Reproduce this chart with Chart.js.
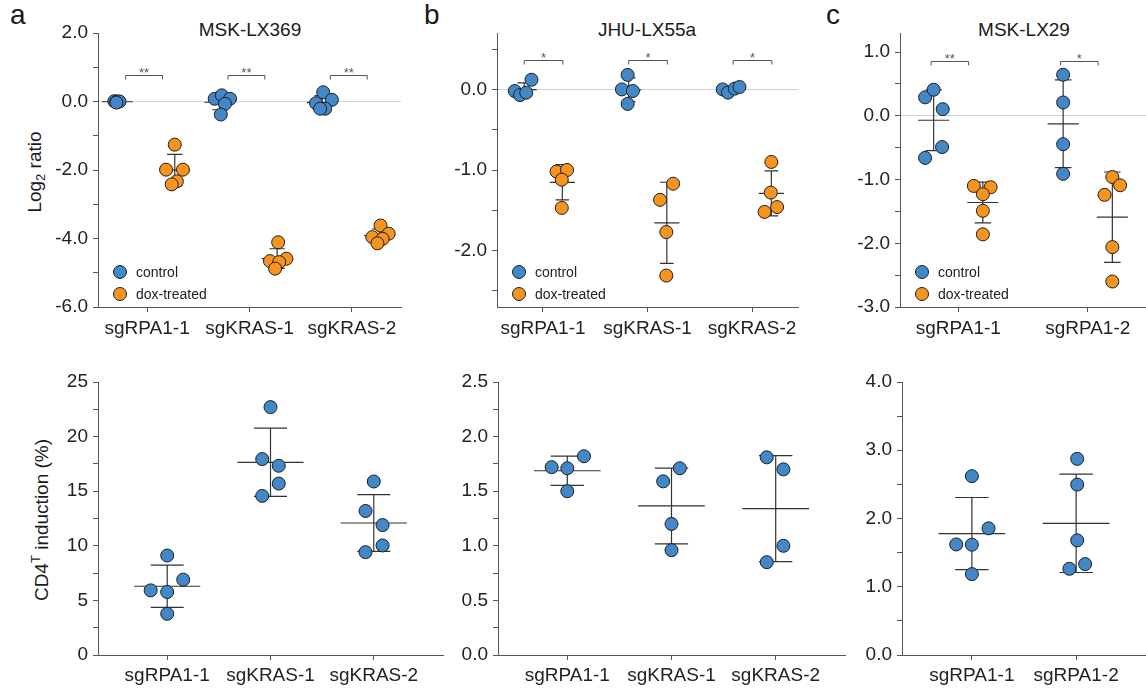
<!DOCTYPE html>
<html>
<head>
<meta charset="utf-8">
<script src="https://cdn.jsdelivr.net/npm/chart.js@4.4.1/dist/chart.umd.min.js"></script>
<style>
  body { margin: 0; background: #fff; }
  #wrap { position: relative; width: 1146px; height: 689px; overflow: hidden;
          font-family: 'Liberation Sans', Arial, sans-serif; color: #1a1a1a; }
  canvas { position: absolute; }
  .lbl { position: absolute; transform: translate(-50%, -50%); white-space: nowrap; line-height: 1; font-size: 19px; }
  .letter { position: absolute; font-size: 28px; line-height: 1; }
  .ytitle { position: absolute; transform: translate(-50%, -50%) rotate(-90deg); white-space: nowrap;
            line-height: 1; font-size: 19px; }
  .ytitle sub, .ytitle sup { font-size: 13px; }
</style>
</head>
<body>
<div id="wrap">
  <div class="letter" style="left:10px;top:1px">a</div>
  <div class="letter" style="left:424px;top:1px">b</div>
  <div class="letter" style="left:826px;top:1px">c</div>
  <div class="lbl" style="left:250px;top:29px">MSK-LX369</div>
  <div class="lbl" style="left:647px;top:29px">JHU-LX55a</div>
  <div class="lbl" style="left:1024px;top:29px">MSK-LX29</div>
  <div class="ytitle" style="left:36px;top:172px">Log<sub>2</sub> ratio</div>
  <div class="ytitle" style="left:40px;top:520px">CD4<sup>T</sup> induction (%)</div>
  <canvas id="aTop"></canvas>
  <canvas id="bTop"></canvas>
  <canvas id="cTop"></canvas>
  <canvas id="aBot"></canvas>
  <canvas id="bBot"></canvas>
  <canvas id="cBot"></canvas>
</div>
<script>
// ---- data ----
// top row: log2 ratio, control vs dox-treated
const aCats = ['sgRPA1-1', 'sgKRAS-1', 'sgKRAS-2'];
const aCtrl = [[0.01, -0.02, 0.0, 0.0, -0.03], [0.08, 0.18, 0.08, -0.07, -0.38], [0.27, -0.05, 0.05, -0.21, -0.21]];
const aCtrlJit = [[-0.32, -0.3, -0.29, -0.27, -0.3], [-0.34, -0.27, -0.19, -0.24, -0.28], [-0.28, -0.35, -0.195, -0.26, -0.31]];
const aDox = [[-1.26, -1.99, -1.99, -2.33, -2.42], [-4.11, -4.66, -4.59, -4.69, -4.88], [-3.62, -3.86, -3.96, -4.01, -4.14]];
const aDoxJit = [[0.27, 0.185, 0.35, 0.29, 0.24], [0.28, 0.2, 0.36, 0.29, 0.25], [0.28, 0.36, 0.2, 0.3, 0.25]];
const aSig = ['**', '**', '**'];
const aYTicks = [-6, -5, -4, -3, -2, -1, 0, 1, 2];
const aYLabels = ['-6.0', '', '-4.0', '', '-2.0', '', '0.0', '', '2.0'];

const bCats = ['sgRPA1-1', 'sgKRAS-1', 'sgKRAS-2'];
const bCtrl = [[-0.02, -0.07, -0.04, 0.12], [0.18, 0.0, -0.02, -0.18], [0.0, -0.04, 0.01, 0.03]];
const bCtrlJit = [[-0.27, -0.22, -0.16, -0.11], [-0.19, -0.245, -0.14, -0.19], [-0.28, -0.23, -0.165, -0.12]];
const bDox = [[-1.02, -1.0, -1.12, -1.47], [-1.37, -1.17, -1.77, -2.31], [-0.9, -1.28, -1.52, -1.46]];
const bDoxJit = [[0.13, 0.23, 0.18, 0.18], [0.12, 0.245, 0.18, 0.18], [0.185, 0.18, 0.12, 0.24]];
const bSig = ['*', '*', '*'];
const bYTicks = [-2.5, -2, -1.5, -1, -0.5, 0, 0.5];
const bYLabels = ['', '-2.0', '', '-1.0', '', '0.0', ''];

const cCats = ['sgRPA1-1', 'sgRPA1-2'];
const cCtrl = [[0.29, 0.41, 0.105, -0.49, -0.66], [0.645, 0.21, -0.445, -0.91]];
const cCtrlJit = [[-0.256, -0.19, -0.12, -0.125, -0.256], [-0.19, -0.19, -0.19, -0.19]];
const cDox = [[-1.1, -1.12, -1.23, -1.49, -1.86], [-0.96, -1.09, -1.24, -2.06, -2.6]];
const cDoxJit = [[0.12, 0.25, 0.19, 0.19, 0.19], [0.19, 0.25, 0.13, 0.19, 0.19]];
const cSig = ['**', '*'];
const cYTicks = [-3, -2.5, -2, -1.5, -1, -0.5, 0, 0.5, 1];
const cYLabels = ['-3.0', '', '-2.0', '', '-1.0', '', '0.0', '', '1.0'];

// bottom row: CD4T induction
const dCats = ['sgRPA1-1', 'sgKRAS-1', 'sgKRAS-2'];
const dVals = [[9.11, 5.92, 5.77, 6.9, 3.77], [22.7, 17.94, 17.33, 15.7, 14.57], [15.89, 13.19, 11.9, 10.03, 9.42]];
const dJit = [[0, -0.16, 0, 0.155, 0], [0, -0.08, 0.08, 0.08, -0.08], [0, -0.08, 0.085, 0.085, -0.08]];
const dYTicks = [0, 2.5, 5, 7.5, 10, 12.5, 15, 17.5, 20, 22.5, 25];
const dYLabels = ['0', '', '5', '', '10', '', '15', '', '20', '', '25'];

const eCats = ['sgRPA1-1', 'sgKRAS-1', 'sgKRAS-2'];
const eVals = [[1.72, 1.71, 1.82, 1.5], [1.59, 1.71, 1.2, 0.96], [1.81, 1.7, 1.0, 0.85]];
const eJit = [[-0.15, 0, 0.16, 0], [-0.08, 0.08, 0, 0], [-0.086, 0.074, 0.074, -0.086]];
const eYTicks = [0, 0.25, 0.5, 0.75, 1, 1.25, 1.5, 1.75, 2, 2.25, 2.5];
const eYLabels = ['0.0', '', '0.5', '', '1.0', '', '1.5', '', '2.0', '', '2.5'];

const fCats = ['sgRPA1-1', 'sgRPA1-2'];
const fVals = [[2.62, 1.856, 1.62, 1.616, 1.185], [2.874, 2.497, 1.68, 1.263, 1.332]];
const fJit = [[0, 0.16, -0.15, 0, 0], [0.01, 0.01, 0.01, -0.065, 0.086]];
const fYTicks = [0, 0.5, 1, 1.5, 2, 2.5, 3, 3.5, 4];
const fYLabels = ['0.0', '', '1.0', '', '2.0', '', '3.0', '', '4.0'];

const BLUE = '#4288c9';
const ORANGE = '#f7941e';
const EDGE = '#1e1e1e';

Chart.defaults.font.family = "'Liberation Sans', Arial, 'DejaVu Sans', sans-serif";
Chart.defaults.color = '#222';

// ---- helpers ----
const mean = a => a.reduce((s, v) => s + v, 0) / a.length;
const sd = a => { const m = mean(a); return Math.sqrt(a.reduce((s, v) => s + (v - m) ** 2, 0) / (a.length - 1)); };

function points(groups, jit) {
  return groups.flatMap((g, i) => g.map((v, j) => ({ x: i + jit[i][j], y: v })));
}

// mean line + SD whisker with caps, one group per entry
function errBars(groups, offset, half, cap) {
  const out = [];
  groups.forEach((g, i) => {
    const m = mean(g), s = sd(g), x = i + offset;
    out.push({ x: x - half, y: m }, { x: x + half, y: m }, { x, y: null },
             { x, y: m - s }, { x, y: m + s }, { x, y: null },
             { x: x - cap, y: m + s }, { x: x + cap, y: m + s }, { x, y: null },
             { x: x - cap, y: m - s }, { x: x + cap, y: m - s }, { x, y: null });
  });
  return out;
}

const sigPlugin = {
  id: 'sig',
  afterDatasetsDraw(chart, args, opts) {
    if (!opts.labels) return;
    const { ctx, scales: { x, y } } = chart;
    const py = Math.round(y.getPixelForValue(opts.y)) + 0.5;
    ctx.save();
    ctx.strokeStyle = '#555';
    ctx.fillStyle = '#555';
    ctx.lineWidth = 1;
    ctx.font = "13px 'Liberation Sans', Arial, sans-serif";
    ctx.textAlign = 'center';
    ctx.textBaseline = 'alphabetic';
    opts.labels.forEach((lab, i) => {
      const x1 = x.getPixelForValue(i + opts.from), x2 = x.getPixelForValue(i + opts.to);
      ctx.beginPath();
      ctx.moveTo(x1, py + 4);
      ctx.lineTo(x1, py);
      ctx.lineTo(x2, py);
      ctx.lineTo(x2, py + 4);
      ctx.stroke();
      ctx.fillText(lab, (x1 + x2) / 2, py + 1);
    });
    ctx.restore();
  }
};

const dotLegend = {
  id: 'dotLegend',
  afterDraw(chart) {
    const { ctx, chartArea } = chart;
    const items = chart.data.datasets.filter(d => d.label);
    ctx.save();
    items.forEach((d, i) => {
      const cx = chartArea.left + 22, cy = chartArea.bottom - 35 + i * 22;
      ctx.beginPath();
      ctx.arc(cx, cy, 6.5, 0, Math.PI * 2);
      ctx.fillStyle = d.backgroundColor;
      ctx.fill();
      ctx.lineWidth = 1;
      ctx.strokeStyle = EDGE;
      ctx.stroke();
      ctx.fillStyle = '#222';
      ctx.font = "14px 'Liberation Sans', Arial, sans-serif";
      ctx.textAlign = 'left';
      ctx.textBaseline = 'middle';
      ctx.fillText(d.label, cx + 16, cy + 1);
    });
    ctx.restore();
  }
};

function yAxis(min, max, ticks, labels, yw, zeroLine) {
  return {
    min, max,
    afterFit: s => { s.width = yw; },
    afterBuildTicks: s => { s.ticks = ticks.map(v => ({ value: v })); },
    ticks: { autoSkip: false, padding: 5, color: '#222', font: { size: 19 }, callback: (v, i) => labels[i] },
    grid: {
      drawOnChartArea: zeroLine, tickLength: 5, tickColor: '#555',
      color: c => (c.tick && c.tick.value === 0) ? '#d2d2d2' : 'rgba(0,0,0,0)'
    },
    border: { color: '#555' }
  };
}

function xAxis(min, max, cats, xh, pad) {
  return {
    type: 'linear', min, max,
    afterFit: s => { s.height = xh; },
    afterBuildTicks: s => { s.ticks = cats.map((c, i) => ({ value: i })); },
    ticks: { autoSkip: false, maxRotation: 0, padding: pad, color: '#222', font: { size: 19 }, callback: (v, i) => cats[i] },
    grid: { drawOnChartArea: false, tickLength: 5, tickColor: '#555' },
    border: { color: '#555' }
  };
}

// area: plot box in page pixels; yw: room for y axis left of it
function build(id, area, yw, datasets, scales, plugins, pluginOpts) {
  const pt = 25, xh = 36, pr = 4;
  const cv = document.getElementById(id);
  cv.width = yw + (area.r - area.l) + pr;
  cv.height = pt + (area.b - area.t) + xh;
  cv.style.left = (area.l - yw) + 'px';
  cv.style.top = (area.t - pt) + 'px';
  scales.y.afterFit = s => { s.width = yw; };
  scales.x.afterFit = s => { s.height = xh; };
  return new Chart(cv, {
    type: 'scatter',
    data: { datasets },
    options: {
      responsive: false,
      animation: false,
      events: [],
      layout: { autoPadding: false, padding: { top: pt, right: pr, left: 0, bottom: 0 } },
      plugins: Object.assign({ legend: { display: false }, tooltip: { enabled: false } }, pluginOpts),
      scales
    },
    plugins
  });
}

function dots(label, data, color) {
  return { label, data, backgroundColor: color, borderColor: EDGE, borderWidth: 1, pointRadius: 6.5, order: 1 };
}
function bars(data) {
  return { label: '', data, showLine: true, spanGaps: false, pointRadius: 0, borderColor: '#333', borderWidth: 1.2, order: 5 };
}

function topPanel(id, area, yw, cats, ctrl, ctrlJit, dox, doxJit, offs, half, cap, xr, yr, yt, yl, sig, sigY, sigFrom, sigTo) {
  build(id, area, yw, [
    dots('control', points(ctrl, ctrlJit), BLUE),
    dots('dox-treated', points(dox, doxJit), ORANGE),
    bars(errBars(ctrl, offs[0], half, cap).concat(errBars(dox, offs[1], half, cap)))
  ], {
    x: xAxis(xr[0], xr[1], cats, 36, 5),
    y: yAxis(yr[0], yr[1], yt, yl, yw, true)
  }, [sigPlugin, dotLegend], { sig: { labels: sig, y: sigY, from: sigFrom, to: sigTo } });
}

function botPanel(id, area, yw, cats, vals, jit, xr, yr, yt, yl) {
  build(id, area, yw, [
    dots('', points(vals, jit), BLUE),
    bars(errBars(vals, 0, 0.32, 0.16))
  ], {
    x: xAxis(xr[0], xr[1], cats, 36, 4),
    y: yAxis(yr[0], yr[1], yt, yl, yw, false)
  }, [], {});
}

topPanel('aTop', { l: 98, r: 401, t: 33, b: 307 }, 98, aCats, aCtrl, aCtrlJit, aDox, aDoxJit,
  [-0.29, 0.27], 0.15, 0.075, [-0.48, 2.48], [-6, 2], aYTicks, aYLabels, aSig, 0.77, -0.21, 0.15);
topPanel('bTop', { l: 497, r: 798, t: 33, b: 307 }, 67, bCats, bCtrl, bCtrlJit, bDox, bDoxJit,
  [-0.18, 0.185], 0.12, 0.065, [-0.44, 2.44], [-2.7, 0.7], bYTicks, bYLabels, bSig, 0.36, -0.18, 0.19);
topPanel('cTop', { l: 900, r: 1146, t: 33, b: 307 }, 65, cCats, cCtrl, cCtrlJit, cDox, cDoxJit,
  [-0.19, 0.19], 0.12, 0.064, [-0.45, 1.45], [-3, 1.3], cYTicks, cYLabels, cSig, 0.865, -0.21, 0.08);

botPanel('aBot', { l: 98, r: 443, t: 382, b: 655 }, 98, dCats, dVals, dJit, [-0.67, 2.67], [0, 25], dYTicks, dYLabels);
botPanel('bBot', { l: 498, r: 845, t: 382, b: 655 }, 58, eCats, eVals, eJit, [-0.665, 2.665], [0, 2.5], eYTicks, eYLabels);
botPanel('cBot', { l: 902, r: 1146, t: 382, b: 655 }, 56, fCats, fVals, fJit, [-0.67, 1.67], [0, 4], fYTicks, fYLabels);
</script>
</body>
</html>
